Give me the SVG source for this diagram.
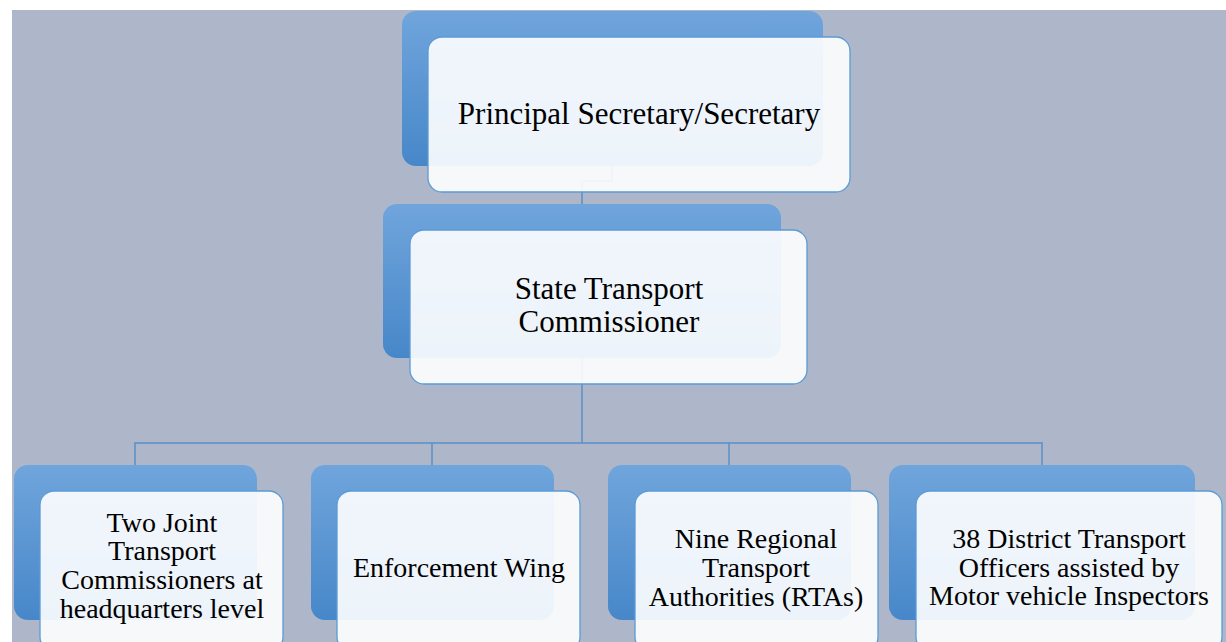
<svg xmlns="http://www.w3.org/2000/svg" width="1226" height="642" viewBox="0 0 1226 642">
<defs>
<linearGradient id="bg" x1="0" y1="0" x2="0" y2="1">
<stop offset="0" stop-color="#70a5dc"/>
<stop offset="1" stop-color="#4787c9"/>
</linearGradient>
<style>
.back{fill:url(#bg);}
.front{fill:#ffffff;fill-opacity:0.9;stroke:#5b9bd5;stroke-width:1.3;}
.conn{fill:none;stroke:#5a8fc8;stroke-width:1.5;}
.t1{font-family:"Liberation Serif","Times New Roman",serif;font-size:31px;fill:#000;text-anchor:middle;}
.t3{font-family:"Liberation Serif","Times New Roman",serif;font-size:28px;fill:#000;text-anchor:middle;}
</style>
</defs>
<rect x="0" y="0" width="1226" height="642" fill="#ffffff"/>
<rect x="12" y="10" width="1214" height="632" fill="#adb7c9"/>
<g id="connectors">
<path class="conn" d="M612,166 V181 H582 V204"/>
<path class="conn" d="M582,358 V443"/>
<path class="conn" d="M135,465 V443 H1042 V465"/>
<path class="conn" d="M432,443 V465"/>
<path class="conn" d="M729,443 V465"/>
</g>
<g id="node-principal">
<rect class="back" x="402" y="11" width="421" height="155" rx="14"/>
<rect class="front" x="428" y="37" width="422" height="155" rx="14"/>
<text class="t1" x="639" y="124">Principal Secretary/Secretary</text>
</g>
<g id="node-stc">
<rect class="back" x="383" y="204" width="398" height="154" rx="14"/>
<rect class="front" x="410" y="230" width="397" height="154" rx="14"/>
<text class="t1" x="609" y="299">State Transport</text>
<text class="t1" x="609" y="332">Commissioner</text>
</g>
<g id="node-jtc">
<rect class="back" x="14" y="465" width="243" height="155" rx="14"/>
<rect class="front" x="40" y="491" width="243" height="160" rx="14"/>
<text class="t3" x="162" y="532">Two Joint</text>
<text class="t3" x="162" y="560">Transport</text>
<text class="t3" x="162" y="589">Commissioners at</text>
<text class="t3" x="162" y="618">headquarters level</text>
</g>
<g id="node-enf">
<rect class="back" x="311" y="465" width="243" height="155" rx="14"/>
<rect class="front" x="337" y="491" width="243" height="160" rx="14"/>
<text class="t3" x="459" y="577">Enforcement Wing</text>
</g>
<g id="node-rta">
<rect class="back" x="608" y="465" width="243" height="155" rx="14"/>
<rect class="front" x="635" y="491" width="243" height="160" rx="14"/>
<text class="t3" x="756" y="548">Nine Regional</text>
<text class="t3" x="756" y="577">Transport</text>
<text class="t3" x="756" y="606">Authorities (RTAs)</text>
</g>
<g id="node-dto">
<rect class="back" x="889" y="465" width="306" height="155" rx="14"/>
<rect class="front" x="916" y="491" width="306" height="160" rx="14"/>
<text class="t3" x="1069" y="548">38 District Transport</text>
<text class="t3" x="1069" y="577">Officers assisted by</text>
<text class="t3" x="1069" y="605">Motor vehicle Inspectors</text>
</g>
</svg>
